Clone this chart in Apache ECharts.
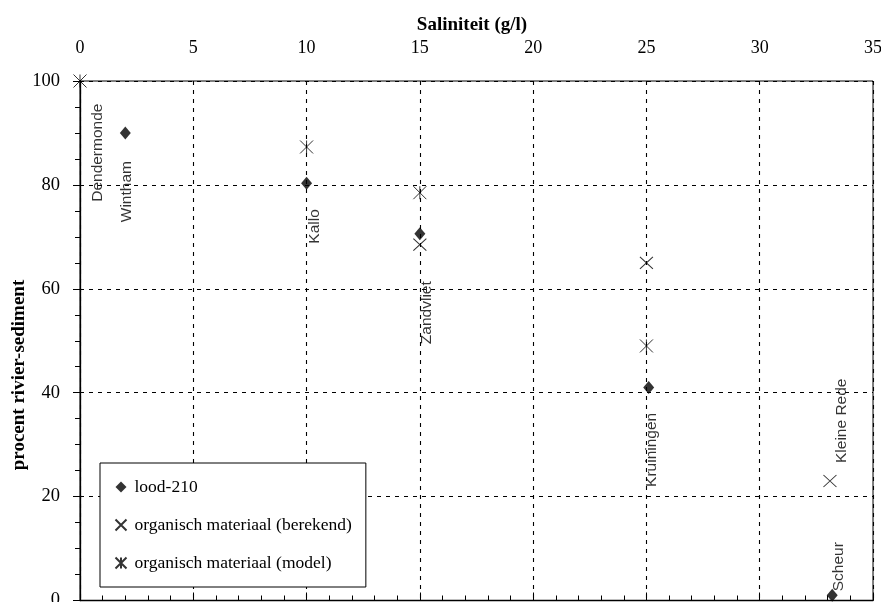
<!DOCTYPE html>
<html>
<head>
<meta charset="utf-8">
<script src="https://cdn.jsdelivr.net/npm/echarts@6/dist/echarts.min.js"></script>
<style>html,body{margin:0;padding:0;background:#fff}#c{width:885px;height:610px}</style>
</head>
<body>
<div id="c"></div>
<script>
// ---- data ----
const xTitle = 'Saliniteit (g/l)';
const yTitle = 'procent rivier-sediment';
const seriesNames = ['lood-210', 'organisch materiaal (berekend)', 'organisch materiaal (model)'];
const lood210 = [[2, 90], [10, 80.3], [15, 70.6], [25.1, 41], [33.2, 1]];
const orgBerekend = [[15, 68.5], [25, 65], [33.1, 23]];
const orgModel = [[0, 100], [10, 87.3], [15, 78.5], [25, 49]];
const stationNames = ['Dendermonde', 'Wintham', 'Kallo', 'Zandvliet', 'Kruiningen', 'Kleine Rede', 'Scheur'];
const stationSalinity = [0.8, 2.07, 10.37, 15.3, 25.25, 33.6, 33.5];
const stationLabelLevel = [86.2, 78.7, 72, 55.4, 29, 34.6, 6.5];

const INK = '#000';
const SERIF = '"Liberation Serif", "DejaVu Serif", serif';
const SANS = '"Liberation Sans", Arial, sans-serif';
const xPath = 'path://M0,0L10,10M10,0L0,10';
const starPath = 'path://M0,0L10,10M10,0L0,10M5,0L5,10';

const chart = echarts.init(document.getElementById('c'), null, {renderer: 'canvas'});
const dashed = {show: true, lineStyle: {color: INK, width: 1.1, type: [4, 5]}};

chart.setOption({
  backgroundColor: '#fff',
  animation: false,
  grid: {left: 80, top: 81, width: 797, height: 527, show: true, borderColor: INK, borderWidth: 1, backgroundColor: 'transparent'},
  xAxis: {
    type: 'value', position: 'top', min: 0, max: 35, interval: 5,
    name: xTitle, nameLocation: 'middle', nameGap: 46,
    nameTextStyle: {fontFamily: SERIF, fontSize: 19, fontWeight: 'bold', color: INK, padding: [0, 9, 0, 0]},
    axisLine: {show: true, lineStyle: {color: INK, width: 1.3}},
    axisTick: {show: true, length: 8, lineStyle: {color: INK}},
    minorTick: {show: true, splitNumber: 5, length: 5, lineStyle: {color: INK}},
    axisLabel: {fontFamily: SERIF, fontSize: 18, color: INK, margin: 24},
    splitLine: dashed
  },
  yAxis: {
    type: 'value', min: 0, max: 100, interval: 20,
    axisLine: {show: true, lineStyle: {color: INK, width: 1.3}},
    axisTick: {show: true, length: 7, lineStyle: {color: INK}},
    minorTick: {show: true, splitNumber: 4, length: 5, lineStyle: {color: INK}},
    axisLabel: {fontFamily: SERIF, fontSize: 18.5, color: INK, margin: 20},
    splitLine: dashed
  },
  legend: {
    left: 100, top: 463, orient: 'vertical',
    backgroundColor: '#fff', borderColor: INK, borderWidth: 1,
    padding: [14, 14, 14, 13], itemGap: 18, itemWidth: 11, itemHeight: 11,
    textStyle: {fontFamily: SERIF, fontSize: 17.5, lineHeight: 20, color: INK, padding: [0, 0, 0, 3]},
    data: seriesNames
  },
  graphic: [{
    type: 'text', x: 19, y: 375, rotation: Math.PI / 2,
    style: {text: yTitle, fontFamily: SERIF, fontSize: 19, fontWeight: 'bold', fill: INK, align: 'center', verticalAlign: 'middle'}
  }],
  series: [
    {name: seriesNames[0], type: 'scatter', data: lood210, symbol: 'diamond', symbolSize: [11, 13],
      itemStyle: {color: INK}, z: 5},
    {name: seriesNames[1], type: 'scatter', data: orgBerekend, symbol: xPath, symbolSize: [13, 12],
      itemStyle: {color: 'none', borderColor: INK, borderWidth: 1}, z: 5},
    {name: seriesNames[2], type: 'scatter', data: orgModel, symbol: starPath, symbolSize: [13, 13],
      itemStyle: {color: 'none', borderColor: INK, borderWidth: 1}, z: 5},
    {name: 'stations', type: 'scatter', symbolSize: 0, silent: true, z: 4,
      data: stationNames.map((n, i) => ({name: n, value: [stationSalinity[i], stationLabelLevel[i]]})),
      label: {show: true, position: 'inside', rotate: 90, formatter: p => p.name,
        fontFamily: SANS, fontSize: 15.5, color: INK}}
  ]
});
</script>
</body>
</html>
